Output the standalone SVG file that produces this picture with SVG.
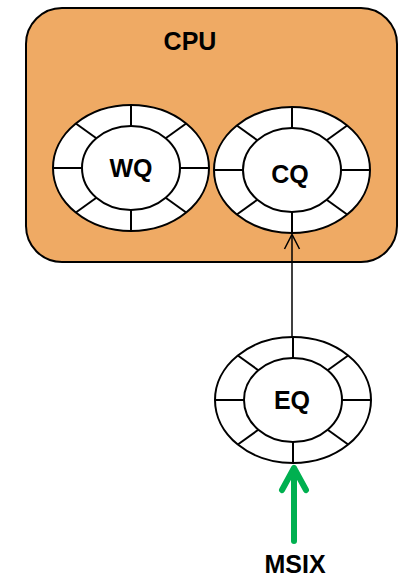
<svg xmlns="http://www.w3.org/2000/svg" width="405" height="577" viewBox="0 0 405 577">
  <style>
    .lbl { font-family: "Liberation Sans", Arial, sans-serif; font-weight: bold; font-size: 25px; fill: #000; text-anchor: middle; }
    .ring ellipse { fill: #fff; stroke: #000; stroke-width: 2; }
    .ring line { stroke: #000; stroke-width: 2; }
  </style>
  <defs>
    <g id="ring" class="ring">
      <ellipse cx="0" cy="0" rx="78" ry="63"/>
      <ellipse cx="0" cy="0" rx="49" ry="42"/>
      <line x1="78" y1="0" x2="49" y2="0"/>
      <line x1="-78" y1="0" x2="-49" y2="0"/>
      <line x1="0" y1="-63" x2="0" y2="-42"/>
      <line x1="0" y1="63" x2="0" y2="42"/>
      <line x1="55.15" y1="-44.55" x2="34.65" y2="-29.7"/>
      <line x1="-55.15" y1="-44.55" x2="-34.65" y2="-29.7"/>
      <line x1="55.15" y1="44.55" x2="34.65" y2="29.7"/>
      <line x1="-55.15" y1="44.55" x2="-34.65" y2="29.7"/>
    </g>
  </defs>

  <g id="cpu">
    <rect x="26" y="8" width="371" height="254" rx="36" ry="36" fill="#EFAA64" stroke="#000" stroke-width="2"/>
    <text class="lbl" x="190" y="50">CPU</text>
  </g>

  <g id="wq">
    <use href="#ring" transform="translate(131,168)"/>
    <text class="lbl" x="131" y="177">WQ</text>
  </g>

  <g id="cq">
    <use href="#ring" transform="translate(292,170)"/>
    <text class="lbl" x="290" y="183">CQ</text>
  </g>

  <g id="eq">
    <use href="#ring" transform="translate(293,400)"/>
    <text class="lbl" x="292" y="409">EQ</text>
  </g>

  <g id="msix">
    <text class="lbl" x="295" y="573">MSIX</text>
  </g>

  <g id="connectors" fill="none">
    <line x1="292" y1="337" x2="292" y2="235" stroke="#000" stroke-width="1.5"/>
    <polyline points="284.5,249 292,234.5 299.5,249" stroke="#000" stroke-width="1.5"/>
    <line x1="294" y1="541" x2="294" y2="469" stroke="#00B050" stroke-width="6" stroke-linecap="round"/>
    <polyline points="282,490 294,468 306,490" stroke="#00B050" stroke-width="6" stroke-linecap="round" stroke-linejoin="round"/>
  </g>
</svg>
